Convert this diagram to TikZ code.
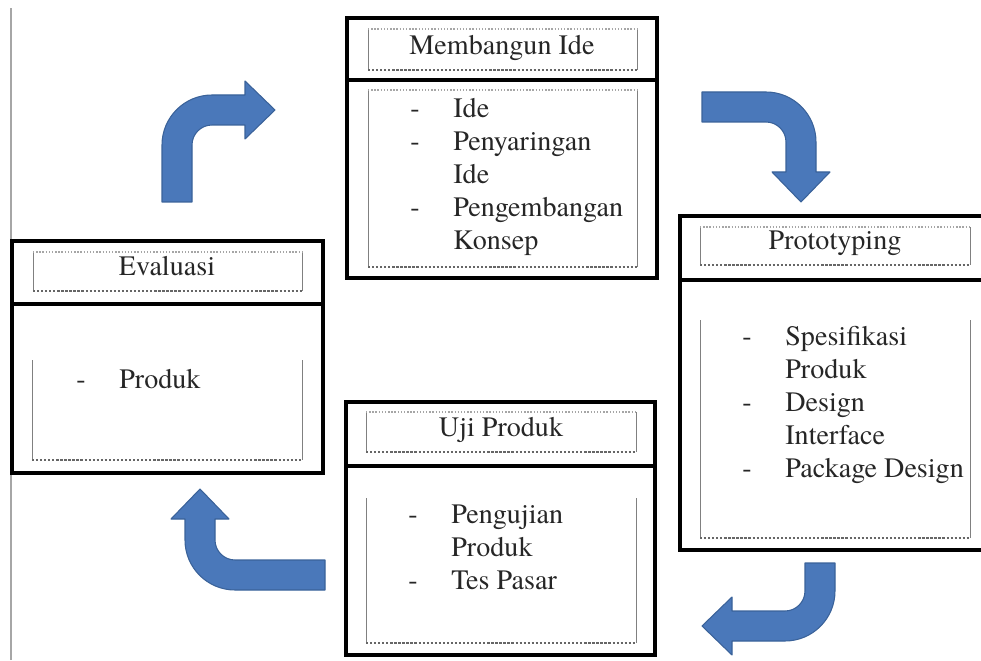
\documentclass[tikz,border=0pt]{standalone}
\usepackage{fontspec}
\IfFontExistsTF{texgyretermes-regular.otf}
  {\setmainfont{texgyretermes-regular.otf}}
  {\setmainfont{DejaVu Serif}[Scale=0.9, FakeStretch=0.85]}

\definecolor{arrowblue}{HTML}{4A78BA}
\definecolor{arrowedge}{HTML}{3A6299}

% list lines: dash, then text
\newcommand{\dashitem}[1]{\strut\makebox[0.86cm][l]{-}#1}
\newcommand{\contline}[1]{\strut\hspace*{0.86cm}#1}

% inner frames: thin sides, dotted top/bottom
\newcommand{\titleframe}[4]{%
  \draw[siderule] (#1,#2) -- (#1,#4) (#3,#2) -- (#3,#4);
  \draw[toprule] (#1,#4) -- (#3,#4);
  \draw[botrule] (#1,#2) -- (#3,#2);}
\newcommand{\listframe}[4]{%
  \draw[siderule] (#1,#2) -- (#1,#4) (#3,#2) -- (#3,#4);
  \draw[botrule] (#1,#2) -- (#3,#2);}

\tikzset{
  pics/bentarrow/.style 2 args={code={
    \draw[arrowshape] (-15,-#1) -- (-15,-35)
      .. controls (-15,-7.4) and (7.4,15) .. (35,15)
      -- ({#2-30},15) -- ({#2-30},29) -- (#2,0) -- ({#2-30},-29) -- ({#2-30},-15)
      -- (35,-15) .. controls (24,-15) and (15,-24) .. (15,-35)
      -- (15,-#1) -- cycle;
  }}
}

\begin{document}
\begin{tikzpicture}[x=0.02cm, y=0.02cm,
    frame/.style={line width=2.4pt, black},
    siderule/.style={line width=0.5pt, gray},
    toprule/.style={line width=0.8pt, gray!70, densely dotted},
    botrule/.style={line width=1.3pt, gray!80!black, densely dotted},
    arrowshape/.style={fill=arrowblue, draw=arrowedge, line width=0.6pt, line join=round},
    titletext/.style={anchor=base, inner sep=0pt, font=\fontsize{16}{18.8}\selectfont, text=black!85},
    listtext/.style={anchor=north west, inner sep=0pt, align=left, font=\fontsize{16}{18.8}\selectfont, text=black!85}]
  \useasboundingbox (0,0) rectangle (981,660);
  \clip (0,0) rectangle (981,660);

  % margin line on the left
  \draw[line width=0.6pt, gray!70] (11,0) -- (11,652);

  % Evaluasi
  \draw[frame] (12,187) rectangle (323,419);
  \draw[frame] (12,356) -- (323,356);
  \titleframe{33}{369}{302}{408}
  \listframe{32}{200}{302}{300}
  \node[titletext] (evalTitle) at (167,384) {Evaluasi};
  \node[listtext] (evalList) at (76,295) {\dashitem{Produk}};

  % Membangun Ide
  \draw[frame] (347,382) rectangle (657,642);
  \draw[frame] (347,580) -- (657,580);
  \titleframe{368}{590}{637}{631}
  \listframe{368}{393}{637}{570}
  \draw[toprule] (368,570) -- (637,570);
  \node[titletext] (ideTitle) at (502,605) {Membangun Ide};
  \node[listtext] (ideList) at (410,566) {\dashitem{Ide}\\ \dashitem{Penyaringan}\\ \contline{Ide}\\
    \dashitem{Pengembangan}\\ \contline{Konsep}};

  % Prototyping
  \draw[frame] (680,110) rectangle (990,444);
  \draw[frame] (680,380) -- (990,380);
  \titleframe{700}{395}{970}{433}
  \listframe{700}{122}{970}{340}
  \node[titletext] (protoTitle) at (835,410) {Prototyping};
  \node[listtext] (protoList) at (742,338) {\dashitem{Spesifikasi}\\ \contline{Produk}\\
    \dashitem{Design}\\ \contline{Interface}\\ \dashitem{Package Design}};

  % Uji Produk
  \draw[frame] (346,5) rectangle (655,258);
  \draw[frame] (346,194) -- (655,194);
  \titleframe{366}{208}{636}{248}
  \listframe{366}{17}{636}{162}
  \node[titletext] (ujiTitle) at (501,223) {Uji Produk};
  \node[listtext] (ujiList) at (408,160) {\dashitem{Pengujian}\\ \contline{Produk}\\ \dashitem{Tes Pasar}};

  % bent arrows round the cycle
  \pic at (177,550) {bentarrow={92}{98}};
  \pic[rotate=-90] at (801,553) {bentarrow={99}{95}};
  \pic[rotate=180] at (820,34) {bentarrow={63}{118}};
  \pic[rotate=90] at (200,85) {bentarrow={125}{86}};
\end{tikzpicture}
\end{document}
